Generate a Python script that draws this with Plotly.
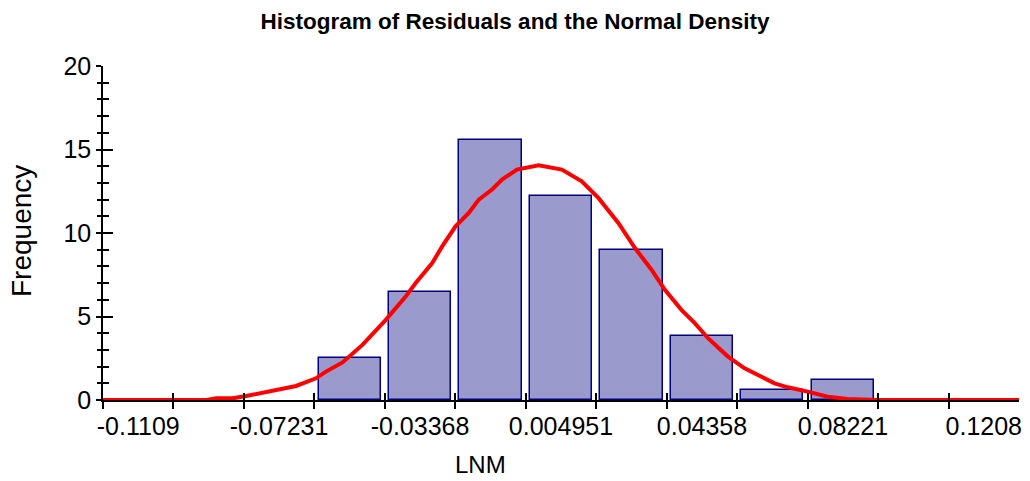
import plotly.graph_objects as go

# Histogram bins (centers in LNM units) and bar heights
bin_width = 0.019315
bin_centers = [-0.05300, -0.03368, -0.01437, 0.004951, 0.02427, 0.04358, 0.06290, 0.08221]
frequencies = [2.50, 6.46, 15.56, 12.20, 8.98, 3.82, 0.60, 1.20]

# Normal density curve, scaled to the frequency axis
curve_x = [-0.12056, -0.09223, -0.08950, -0.08497, -0.08131, -0.07585, -0.06765,
           -0.06219, -0.05946, -0.05492, -0.04946, -0.04307, -0.03761, -0.03487,
           -0.03034, -0.02761, -0.02395, -0.02032, -0.01758, -0.01395, -0.01122,
           -0.00712, -0.00120, 0.00517, 0.01063, 0.01519, 0.02066, 0.02522,
           0.02975, 0.03341, 0.03795, 0.04161, 0.04524, 0.05070, 0.05526,
           0.06346, 0.06709, 0.07255, 0.07802, 0.08348, 0.09167, 0.13046]
curve_y = [0.00, 0.00, 0.10, 0.10, 0.24, 0.50, 0.84,
           1.30, 1.70, 2.25, 3.30, 4.80, 6.20, 7.00,
           8.20, 9.20, 10.40, 11.20, 12.00, 12.60, 13.20,
           13.80, 14.06, 13.80, 13.10, 12.10, 10.60, 9.10,
           7.80, 6.60, 5.40, 4.60, 3.70, 2.60, 1.90,
           1.00, 0.76, 0.50, 0.20, 0.06, 0.00, 0.00]

# Axis labels sit on alternate bin centers
tick_values = [-0.1109, -0.07231, -0.03368, 0.004951, 0.04358, 0.08221, 0.1208]
tick_labels = ["-0.1109", "-0.07231", "-0.03368", "0.004951", "0.04358", "0.08221", "0.1208"]

x_lo = tick_values[0] - bin_width / 2
x_hi = tick_values[-1] + bin_width / 2

FONT = "Liberation Sans, Arial, sans-serif"

fig = go.Figure()
fig.add_trace(go.Bar(
    x=bin_centers, y=frequencies, width=bin_width * 0.88,
    marker=dict(color="#9a9acc", line=dict(color="#000080", width=1.5)),
    showlegend=False, hoverinfo="skip",
))
fig.add_trace(go.Scatter(
    x=curve_x, y=curve_y, mode="lines",
    line=dict(color="#ff0000", width=4),
    showlegend=False, cliponaxis=False,
))
# invisible traces so the overlay axes (crossing tick marks, labels) get drawn
for xa, ya in [("x2", "y"), ("x3", "y"), ("x", "y2")]:
    fig.add_trace(go.Scatter(x=[x_lo], y=[0], xaxis=xa, yaxis=ya, mode="markers",
                             marker=dict(opacity=0), showlegend=False, hoverinfo="skip"))

tick_font = dict(family=FONT, size=25, color="black")

fig.update_layout(
    width=1030, height=481,
    margin=dict(l=103, r=8, t=66, b=81),
    paper_bgcolor="white", plot_bgcolor="white",
    title=dict(text="<b>Histogram of Residuals and the Normal Density</b>",
               x=0.5, xanchor="center", y=0.956, yanchor="middle",
               font=dict(family=FONT, size=22.5, color="black")),
    bargap=0,
    xaxis=dict(range=[x_lo, x_hi], showgrid=False, zeroline=False,
               showline=True, linecolor="black", linewidth=1.5,
               tickmode="linear", tick0=x_lo, dtick=bin_width,
               ticks="outside", ticklen=7, tickwidth=1.5, tickcolor="black",
               showticklabels=False),
    xaxis2=dict(range=[x_lo, x_hi], overlaying="x", anchor="y", side="bottom",
                showgrid=False, zeroline=False, showline=False,
                tickmode="linear", tick0=x_lo, dtick=bin_width,
                ticks="inside", ticklen=7, tickwidth=1.5, tickcolor="black",
                showticklabels=False),
    xaxis3=dict(range=[x_lo, x_hi], overlaying="x", anchor="y", side="bottom",
                showgrid=False, zeroline=False, showline=False,
                tickmode="array", tickvals=tick_values, ticktext=tick_labels,
                ticks="", ticklabelstandoff=9, tickfont=tick_font),
    yaxis=dict(range=[0, 20], showgrid=False, zeroline=False,
               showline=True, linecolor="black", linewidth=1.5,
               tickmode="linear", tick0=0, dtick=5,
               ticks="outside", ticklen=5, tickwidth=1.5, tickcolor="black",
               minor=dict(tick0=0, dtick=1, ticks="outside", ticklen=4,
                          tickwidth=1.5, tickcolor="black"),
               tickfont=tick_font, ticklabelstandoff=0),
    yaxis2=dict(range=[0, 20], overlaying="y", anchor="x", side="left",
                showgrid=False, zeroline=False, showline=False,
                tickmode="linear", tick0=0, dtick=5,
                ticks="inside", ticklen=10, tickwidth=1.5, tickcolor="black",
                minor=dict(tick0=0, dtick=1, ticks="inside", ticklen=6,
                           tickwidth=1.5, tickcolor="black"),
                showticklabels=False),
    annotations=[
        dict(text="LNM", xref="paper", yref="paper", x=0.4124, y=0,
             xanchor="center", yanchor="bottom", yshift=-79, showarrow=False,
             borderpad=0, font=dict(family=FONT, size=24, color="black")),
        dict(text="Frequency", xref="paper", yref="paper", x=0, y=0.5,
             xanchor="center", yanchor="middle", xshift=-82, yshift=2,
             textangle=-90, showarrow=False,
             font=dict(family=FONT, size=28, color="black")),
    ],
)

fig.write_html("out.html")
